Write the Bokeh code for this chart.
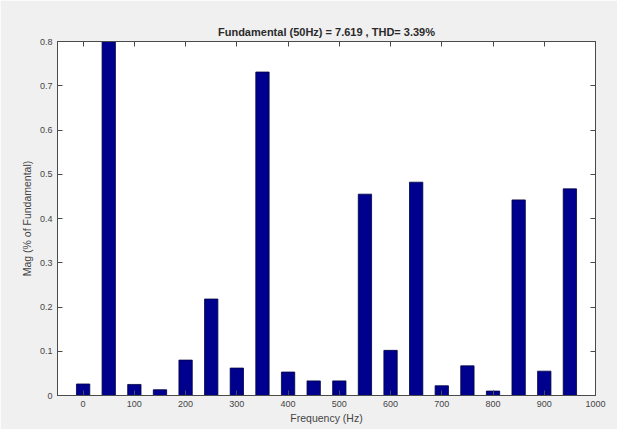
from bokeh.plotting import figure
from bokeh.models import LinearAxis, Range1d, FixedTicker, ColumnDataSource
from bokeh.embed import file_html
from bokeh.resources import INLINE

freqs = [0, 50, 100, 150, 200, 250, 300, 350, 400, 450, 500, 550, 600, 650, 700, 750, 800, 850, 900, 950]
mags = [0.026, 0.80, 0.025, 0.013, 0.080, 0.218, 0.062, 0.731, 0.053, 0.033, 0.033, 0.455, 0.102, 0.482, 0.022, 0.067, 0.010, 0.442, 0.055, 0.467]
x_ticks = [0, 100, 200, 300, 400, 500, 600, 700, 800, 900, 1000]
y_ticks = [0, 0.1, 0.2, 0.3, 0.4, 0.5, 0.6, 0.7, 0.8]
title_text = "Fundamental (50Hz) = 7.619 , THD= 3.39%"
x_label = "Frequency (Hz)"
y_label = "Mag (% of Fundamental)"

src = ColumnDataSource(dict(x=freqs, top=mags))

BG = "#f0f0f0"
AX = "#4a4a4a"
TXT = "#444444"
FONT = "Liberation Sans"

p = figure(width=617, height=429, output_backend="svg", toolbar_location=None,
           x_range=Range1d(-50, 1000), y_range=Range1d(0, 0.8),
           min_border_left=57, min_border_top=41, min_border_right=22, min_border_bottom=34,
           border_fill_color=BG, background_fill_color="white",
           x_axis_location=None, y_axis_location=None)

p.vbar(x="x", top="top", width=26, source=src, fill_color="#00008f", line_color="#000040", line_width=0.8)

p.grid.visible = False
p.outline_line_color = AX
p.outline_line_width = 1

def style(ax, labels=True):
    ax.axis_line_color = AX
    ax.major_tick_line_color = AX
    ax.major_tick_in = 5
    ax.major_tick_out = 0
    ax.minor_tick_line_color = None
    ax.major_label_text_font = FONT
    ax.major_label_text_font_size = "9px"
    ax.major_label_text_color = TXT
    ax.major_label_standoff = 5
    ax.axis_label_text_font = FONT
    ax.axis_label_text_font_size = "10.5px"
    ax.axis_label_text_font_style = "normal"
    ax.axis_label_text_color = TXT
    if not labels:
        ax.major_label_text_alpha = 0
        ax.major_label_text_font_size = "1px"
        ax.major_label_standoff = 0

xb = LinearAxis(ticker=FixedTicker(ticks=x_ticks), axis_label=x_label)
style(xb)
xb.axis_label_standoff = 2
p.add_layout(xb, "below")

yl = LinearAxis(ticker=FixedTicker(ticks=y_ticks), axis_label=y_label)
style(yl)
yl.axis_label_standoff = 4
yl.major_label_overrides = {0: "0"}
p.add_layout(yl, "left")

xt = LinearAxis(ticker=FixedTicker(ticks=x_ticks))
style(xt, labels=False)
p.add_layout(xt, "above")

yr = LinearAxis(ticker=FixedTicker(ticks=y_ticks))
style(yr, labels=False)
p.add_layout(yr, "right")

p.title.text = title_text
p.title.text_font = FONT
p.title.text_font_size = "11px"
p.title.text_font_style = "bold"
p.title.text_color = "#2a2a2a"
p.title.align = "center"
p.title.standoff = 8

open("out.html", "w").write(file_html(p, INLINE))
